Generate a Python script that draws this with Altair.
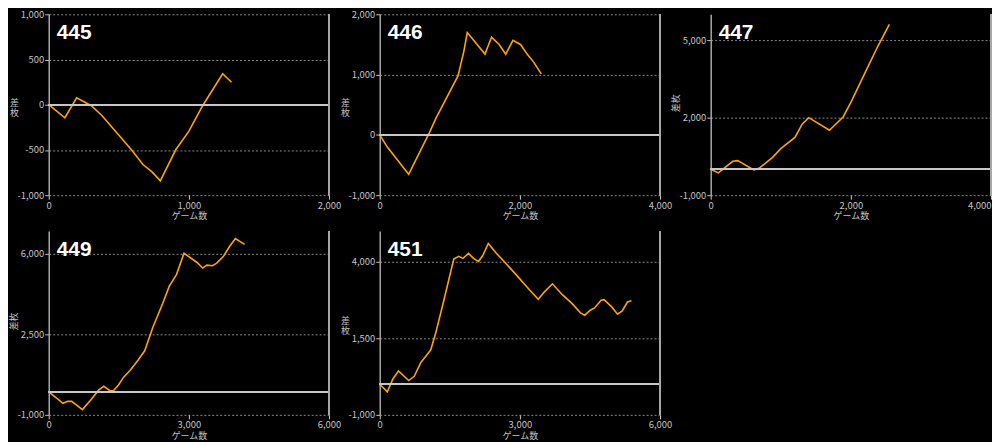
import altair as alt
import pandas as pd

# ---- data -------------------------------------------------------------------
names = ["445", "446", "447", "449", "451"]

g445 = [0, 115, 199, 304, 379, 590, 672, 735, 796, 906, 1000, 1098, 1241, 1304]
d445 = [0, -144, 76, -11, -119, -498, -661, -740, -841, -498, -292, -11, 343, 249]

g446 = [0, 108, 413, 709, 803, 1117, 1202, 1249, 1502, 1596, 1704, 1798, 1901,
        2009, 2103, 2197, 2305]
d446 = [0, -202, -654, 37, 277, 979, 1394, 1697, 1340, 1622, 1500, 1340, 1569,
        1500, 1340, 1207, 1011]

g447 = [0, 108, 315, 385, 615, 695, 883, 1000, 1202, 1305, 1399, 1695, 1892,
        2009, 2174, 2385, 2549]
d447 = [0, -138, 312, 337, -25, 50, 462, 800, 1237, 1750, 2000, 1512, 2037,
        2637, 3575, 4762, 5612]

g449 = [0, 161, 301, 407, 491, 722, 898, 1073, 1178, 1318, 1388, 1493, 1598,
        1739, 1914, 2054, 2229, 2439, 2580, 2734, 2895, 3175, 3294, 3385, 3505,
        3596, 3736, 3876, 3996, 4192]
d449 = [0, -257, -500, -414, -414, -771, -357, 86, 243, 43, 57, 300, 629,
        929, 1386, 1786, 2814, 3843, 4600, 5100, 6029, 5629, 5386, 5514, 5486,
        5600, 5886, 6343, 6671, 6414]

g451 = [0, 162, 282, 401, 620, 739, 880, 965, 1092, 1197, 1373, 1585, 1690,
        1782, 1901, 2007, 2113, 2204, 2324, 2500, 2711, 2923, 3204, 3394, 3521,
        3697, 3908, 4120, 4296, 4387, 4507, 4599, 4739, 4803, 4965, 5092, 5190,
        5303, 5387]
d451 = [0, -248, 172, 431, 119, 259, 711, 873, 1121, 1660, 2737, 4084, 4170,
        4106, 4267, 4106, 4009, 4192, 4591, 4267, 3922, 3567, 3082, 2769, 3006,
        3276, 2920, 2629, 2328, 2252, 2414, 2489, 2737, 2759, 2522, 2285, 2392,
        2683, 2726]

x_max = [2000, 4000, 4000, 6000, 6000]
x_ticks = [[0, 1000, 2000], [0, 2000, 4000], [0, 2000, 4000],
           [0, 3000, 6000], [0, 3000, 6000]]
y_dom = [[-1000, 1000], [-1000, 2000], [-1000, 6000], [-1000, 7000], [-1000, 5000]]
y_ticks = [[-1000, -500, 0, 500, 1000], [-1000, 0, 1000, 2000],
           [-1000, 2000, 5000], [-1000, 2500, 6000], [-1000, 1500, 4000]]
rotated_title = [False, False, True, True, False]

series = [(g445, d445), (g446, d446), (g447, d447), (g449, d449), (g451, d451)]

W = 282
HEIGHTS = [182, 182, 182, 185, 185]
FONT = "Noto Sans CJK JP"
LBL = "#c4c4c4"
LABEL_FIX = "replace(datum.label, '\u2212', '-')"


def panel(i):
    games, diffs = series[i]
    H = HEIGHTS[i]
    df = pd.DataFrame({"games": games, "diff": diffs})
    xmax = x_max[i]
    label_align = "center"
    if i == 2:
        label_align = {"expr": "datum.value >= 4000 ? 'right' : 'center'"}

    x_axis = alt.Axis(
        values=x_ticks[i], format=",d", labelExpr=LABEL_FIX, title="ゲーム数",
        grid=False, domain=False, tickSize=4, tickColor="#d0d0d0", tickWidth=1,
        labelColor=LBL, labelFont=FONT, labelFontSize=9.5, labelPadding=1,
        labelFlush=False, labelAlign=label_align, labelOverlap=False,
        titleFont=FONT, titleFontSize=9, titleFontWeight="normal",
        titleColor=LBL, titlePadding=2,
    )
    if rotated_title[i]:
        ytitle = "差枚"
        tangle = 270
    else:
        ytitle = ["差", "枚"]
        tangle = 0
    y_axis = alt.Axis(
        values=y_ticks[i], format=",d", labelExpr=LABEL_FIX, title=ytitle,
        grid=True, gridColor="#8a8a8a", gridDash=[2, 2], gridWidth=1,
        domain=True, domainColor="#a8a8a8", domainWidth=1.5,
        tickSize=4, tickColor="#c8c8c8", tickWidth=1,
        labelColor=LBL, labelFont=FONT, labelFontSize=9.5, labelPadding=1,
        labelFlush=False, labelOverlap=False,
        titleFont=FONT, titleFontSize=9, titleFontWeight="normal",
        titleColor=LBL, titleAngle=tangle, titleAlign="center",
        titleBaseline="middle", titleX=-35, titleY=H / 2 - 2, titleLineHeight=10,
    )

    line = alt.Chart(df).mark_line(color="#ffa500", strokeWidth=1.6).encode(
        x=alt.X("games:Q", scale=alt.Scale(domain=[0, xmax], nice=False, zero=False),
                axis=x_axis),
        y=alt.Y("diff:Q", scale=alt.Scale(domain=y_dom[i], nice=False, zero=False),
                axis=y_axis),
    )
    zero = alt.Chart(df).mark_rule(color="#c8c8c8", strokeWidth=1.5).encode(
        y=alt.datum(0)
    )
    border = alt.Chart(df).mark_rule(color="#a8a8a8", strokeWidth=1.2).encode(
        x=alt.datum(xmax)
    )
    label = alt.Chart(pd.DataFrame({"name": [names[i]]})).mark_text(
        align="left", baseline="alphabetic", fontSize=21, fontWeight="bold",
        font="Liberation Sans Narrow, Liberation Sans, sans-serif", color="white",
    ).encode(x=alt.value(8), y=alt.value(25), text="name:N")

    return alt.layer(line, zero, border, label).properties(width=W, height=H)


chart = (
    alt.concat(*[panel(i) for i in range(5)], columns=3,
               spacing={"row": 36, "column": 51}, bounds="flush")
    .properties(background="#000000",
                padding={"left": 1, "top": 0, "right": 0, "bottom": 0})
    .configure_view(stroke=None)
)

chart.save("out.html", embed_options={"renderer": "svg", "actions": False})
